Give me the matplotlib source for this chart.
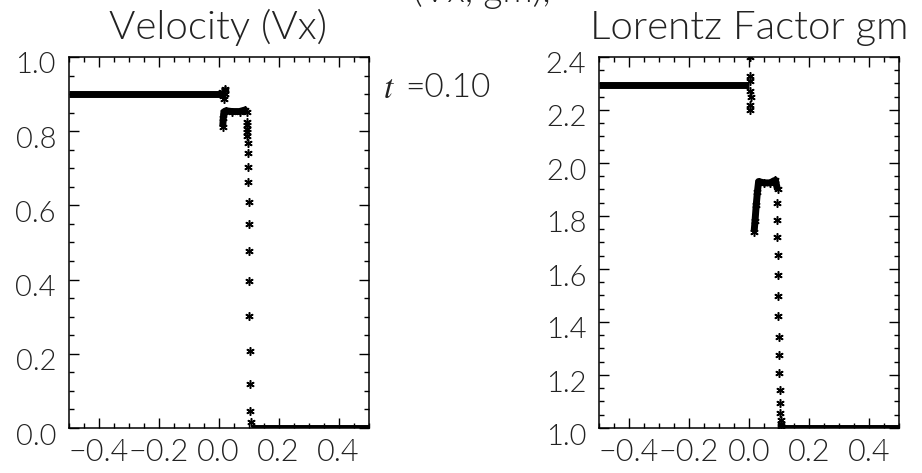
import numpy as np
import matplotlib
matplotlib.use("Agg")
import matplotlib.pyplot as plt
from matplotlib import font_manager
from matplotlib.ticker import MultipleLocator
import matplotlib.transforms as mtransforms

# thin sans face if one is around, else plain DejaVu
thin = None
for name in ['Lato', 'Open Sans', 'Roboto', 'Noto Sans', 'Inter', 'DejaVu Sans']:
    for f in font_manager.fontManager.ttflist:
        if f.name == name and f.style == 'normal' and f.weight in (200, 250, 300, 'light', 'extra-light'):
            thin = f.fname
            break
    if thin:
        break

def fp(size):
    if thin:
        return font_manager.FontProperties(fname=thin, size=size)
    return font_manager.FontProperties(family='DejaVu Sans', size=size)

plt.rcParams['mathtext.fontset'] = 'stix'
plt.rcParams['savefig.bbox'] = None
txt_color = '#222222'

# ---- velocity panel ----
vx_left_x = [-0.5, 0.02]
vx_left = [0.9, 0.9]
vx_blob_x = [0.012, 0.016, 0.02, 0.022, 0.018, 0.021]
vx_blob = [0.905, 0.895, 0.91, 0.9, 0.888, 0.915]
vx_step_x = [0.014, 0.016, 0.018, 0.025, 0.045, 0.07, 0.088, 0.094]
vx_step = [0.812, 0.835, 0.852, 0.855, 0.853, 0.853, 0.857, 0.852]
vx_fall_x = [0.094, 0.095, 0.095, 0.096, 0.096, 0.097, 0.097, 0.098, 0.099,
             0.100, 0.100, 0.101, 0.102, 0.103, 0.104, 0.105, 0.106, 0.107]
vx_fall = [0.825, 0.816, 0.807, 0.798, 0.786, 0.768, 0.740, 0.704, 0.663,
           0.609, 0.550, 0.478, 0.397, 0.303, 0.208, 0.118, 0.046, 0.015]
vx_right_x = [0.108, 0.5]
vx_right = [0.0, 0.0]

# ---- Lorentz factor panel ----
gm_left_x = [-0.5, 0.0]
gm_left = [2.294, 2.294]
gm_blob_x = [0.002, 0.003, 0.004, 0.003, 0.005, 0.004, 0.003]
gm_blob = [2.40, 2.33, 2.31, 2.27, 2.25, 2.22, 2.20]
gm_step_x = [0.017, 0.020, 0.024, 0.028, 0.032, 0.05, 0.07, 0.088, 0.095]
gm_step = [1.74, 1.78, 1.84, 1.89, 1.93, 1.925, 1.925, 1.935, 1.90]
gm_fall_x = [0.092, 0.093, 0.094, 0.095, 0.096, 0.097, 0.098, 0.099, 0.100,
             0.101, 0.102, 0.103, 0.104, 0.105, 0.106, 0.107]
gm_fall = [1.849, 1.785, 1.721, 1.653, 1.577, 1.498, 1.423, 1.343, 1.275,
           1.208, 1.143, 1.094, 1.057, 1.030, 1.015, 1.006]
gm_right_x = [0.108, 0.5]
gm_right = [1.0, 1.0]

time = 0.10

fig = plt.figure(figsize=(9.22, 4.73), dpi=100)
ax1 = fig.add_axes([68.5/922, 1-428/473, 300/922, 371/473])
ax2 = fig.add_axes([599/922, 1-428/473, 300/922, 371/473])

star = (6, 2, 0)


def style(ax, ylo, yhi):
    ax.set_xlim(-0.5, 0.5)
    ax.set_ylim(ylo, yhi)
    ax.xaxis.set_major_locator(MultipleLocator(0.2))
    ax.xaxis.set_minor_locator(MultipleLocator(0.05))
    ax.yaxis.set_major_locator(MultipleLocator(0.2))
    ax.yaxis.set_minor_locator(MultipleLocator(0.05))
    ax.tick_params(which='both', direction='in', top=True, right=True,
                   colors='black', width=1)
    ax.tick_params(which='major', length=7)
    ax.tick_params(which='minor', length=3.5)
    ax.tick_params(axis='x', pad=7)
    ax.tick_params(axis='y', pad=9)
    ax.xaxis.set_major_formatter(plt.FuncFormatter(lambda v, p: f"{v:.1f}".replace('-', '\u2212')))
    ax.yaxis.set_major_formatter(plt.FuncFormatter(lambda v, p: f"{v:.1f}"))
    for s in ax.spines.values():
        s.set_linewidth(1.1)
    # y labels sit a little below their ticks
    off = mtransforms.ScaledTranslation(0, -6/100, fig.dpi_scale_trans)
    for lab in ax.get_yticklabels():
        lab.set_transform(lab.get_transform() + off)
    for lab in ax.get_xticklabels():
        lab.set_fontproperties(fp(22))
        lab.set_color(txt_color)
    for lab in ax.get_yticklabels():
        lab.set_fontproperties(fp(21))
        lab.set_color(txt_color)


def draw(ax, segs, pts):
    for x, y in segs:
        ax.plot(x, y, color='black', lw=5, solid_capstyle='butt')
    for x, y in pts:
        ax.plot(x, y, ls='none', marker=star, ms=6, mew=1.1, color='black')


style(ax1, 0.0, 1.0)
draw(ax1, [(vx_left_x, vx_left), (vx_step_x, vx_step), (vx_right_x, vx_right)],
     [(vx_blob_x, vx_blob), (vx_step_x, vx_step), (vx_fall_x, vx_fall)])
ax1.set_title('Velocity (Vx)', fontproperties=fp(29), color=txt_color, pad=13)

style(ax2, 1.0, 2.4)
draw(ax2, [(gm_left_x, gm_left), (gm_step_x, gm_step), (gm_right_x, gm_right)],
     [(gm_blob_x, gm_blob), (gm_step_x, gm_step), (gm_fall_x, gm_fall)])
ax2.set_title('Lorentz Factor gm', fontproperties=fp(29), color=txt_color, pad=13)

fig.text(383/922, 1-88/473, r'$t$', fontsize=24, va='center', ha='left',
         color=txt_color)
fig.text(405/922, 1-88/473, f'={time:.2f}', fontproperties=fp(24),
         va='center', ha='left', color=txt_color)

# overall heading runs off the top edge; only its lowest strokes show
fig.text(482/922, 1-9/473, '(Vx, gm),', fontproperties=fp(27),
         va='bottom', ha='center', color=txt_color)

fig.savefig('out.png', dpi=100, bbox_inches=None)
